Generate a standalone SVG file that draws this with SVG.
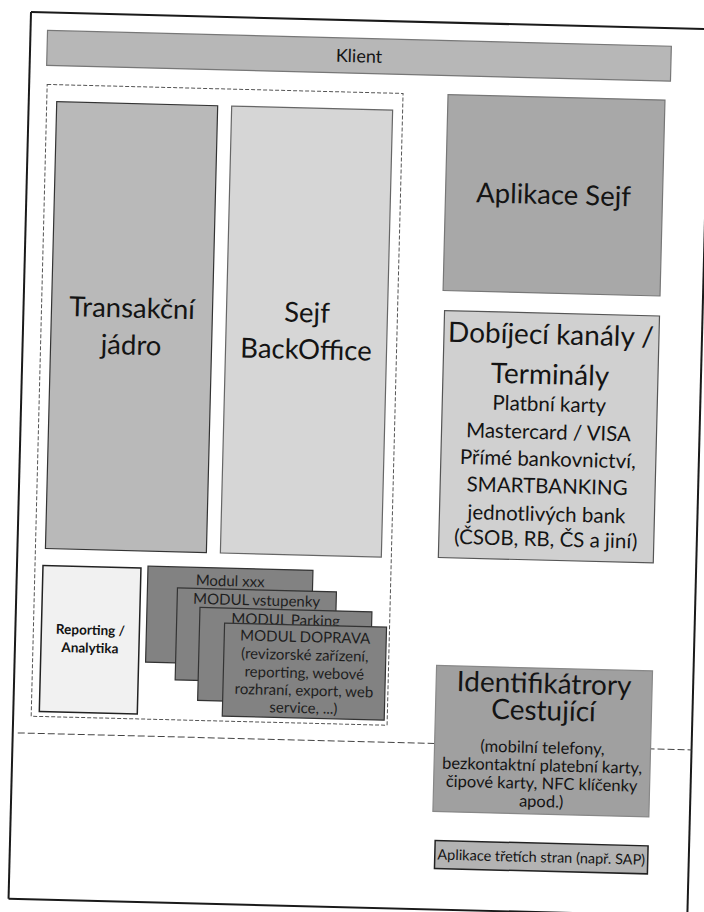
<svg xmlns="http://www.w3.org/2000/svg" width="704" height="912" viewBox="0 0 704 912">
  <style>
    .t { font-family: Lato, "Liberation Sans", "Noto Sans", sans-serif; fill: #141414; text-anchor: middle; }
    .big { font-size: 27.5px; }
    .dbig { font-size: 28px; }
    .mid { font-size: 20.5px; }
    .sm { font-size: 16.5px; }
    .mod { font-size: 15px; fill: #1e1e1e; }
    .frame { stroke: #1a1a1a; stroke-width: 2; fill: none; }
    .box { stroke-width: 1.2; }
  </style>
  <rect width="704" height="912" fill="#ffffff"/>
  <g transform="rotate(1.45 31 12)">
    <g id="frame">
      <line class="frame" x1="31" y1="12" x2="760" y2="12"/>
      <line class="frame" x1="31" y1="12" x2="31" y2="899"/>
      <line class="frame" x1="31" y1="899" x2="760" y2="899"/>
      <line class="frame" x1="710" y1="12" x2="710" y2="930"/>
    </g>
    <g id="separator">
      <line x1="36" y1="733" x2="710" y2="733" stroke="#444" stroke-width="1" stroke-dasharray="7 3"/>
    </g>
    <g id="klient">
      <rect class="box" x="48" y="30" width="624" height="35" fill="#b7b7b7" stroke="#777"/>
      <text class="t" x="360" y="54" font-size="18">Klient</text>
    </g>
    <g id="container">
      <rect x="49" y="84" width="356" height="632" fill="none" stroke="#555" stroke-width="1" stroke-dasharray="4 2"/>
    </g>
    <g id="transakcni-jadro">
      <rect class="box" x="59" y="101" width="161" height="447" fill="#b9b9b9" stroke="#333"/>
      <text class="t big" x="139.5" y="315">Transakční</text>
      <text class="t big" x="139.5" y="352">jádro</text>
    </g>
    <g id="sejf-backoffice">
      <rect class="box" x="234" y="101" width="161" height="447" fill="#d6d6d6" stroke="#666"/>
      <text class="t big" x="314.5" y="315">Sejf</text>
      <text class="t big" x="314.5" y="352">BackOffice</text>
    </g>
    <g id="aplikace-sejf">
      <rect class="box" x="450" y="84" width="217" height="196" fill="#a8a8a8" stroke="#777"/>
      <text class="t big" x="558" y="191">Aplikace Sejf</text>
    </g>
    <g id="dobijeci-kanaly">
      <rect class="box" x="452" y="300" width="215" height="247" fill="#d0d0d0" stroke="#555"/>
      <text class="t dbig" x="559" y="331">Dobíjecí kanály /</text>
      <text class="t dbig" x="559" y="371">Terminály</text>
      <text class="t mid" x="559" y="398">Platbní karty</text>
      <text class="t mid" x="559" y="426">Mastercard / VISA</text>
      <text class="t mid" x="559" y="453">Přímé bankovnictví,</text>
      <text class="t mid" x="559" y="480">SMARTBANKING</text>
      <text class="t mid" x="559" y="508">jednotlivých bank</text>
      <text class="t mid" x="559" y="533">(ČSOB, RB, ČS a jiní)</text>
    </g>
    <g id="reporting">
      <rect x="57" y="565" width="98" height="146" fill="#f1f1f1" stroke="#222" stroke-width="1.5"/>
      <text class="t" x="106" y="633" font-size="13.5" font-weight="bold">Reporting /</text>
      <text class="t" x="106" y="651" font-size="13.5" font-weight="bold">Analytika</text>
    </g>
    <g id="modul-xxx">
      <rect class="box" x="162" y="563" width="165" height="96" fill="#828282" stroke="#333"/>
      <text class="t mod" x="244.5" y="581">Modul xxx</text>
    </g>
    <g id="modul-vstupenky">
      <rect class="box" x="192" y="584" width="159" height="92" fill="#828282" stroke="#333"/>
      <text class="t mod" x="271.5" y="599.5">MODUL vstupenky</text>
    </g>
    <g id="modul-parking">
      <rect class="box" x="215" y="603" width="172" height="93" fill="#828282" stroke="#333"/>
      <text class="t mod" x="301" y="618.5">MODUL Parking</text>
    </g>
    <g id="modul-doprava">
      <rect class="box" x="240" y="618" width="162" height="93" fill="#828282" stroke="#333"/>
      <text class="t mod" x="321" y="635">MODUL DOPRAVA</text>
      <text class="t mod" x="321" y="653">(revizorské zařízení,</text>
      <text class="t mod" x="321" y="671">reporting, webové</text>
      <text class="t mod" x="321" y="688.5">rozhraní, export, web</text>
      <text class="t mod" x="321" y="706">service, ...)</text>
    </g>
    <g id="identifikatory">
      <rect class="box" x="453" y="655" width="216" height="146" fill="#a0a0a0" stroke="#888"/>
      <text class="t" x="561" y="680" font-size="28">Identifikátrory</text>
      <text class="t" x="561" y="707" font-size="28">Cestující</text>
      <text class="t sm" x="561" y="740">(mobilní telefony,</text>
      <text class="t sm" x="561" y="758">bezkontaktní platební karty,</text>
      <text class="t sm" x="561" y="776">čipové karty, NFC klíčenky</text>
      <text class="t sm" x="561" y="794">apod.)</text>
    </g>
    <g id="aplikace-tretich-stran">
      <rect x="456" y="830" width="213" height="28" fill="#b3b3b3" stroke="#222" stroke-width="1.5"/>
      <text class="t" x="562.5" y="849" font-size="14.5">Aplikace třetích stran (např. SAP)</text>
    </g>
  </g>
</svg>
